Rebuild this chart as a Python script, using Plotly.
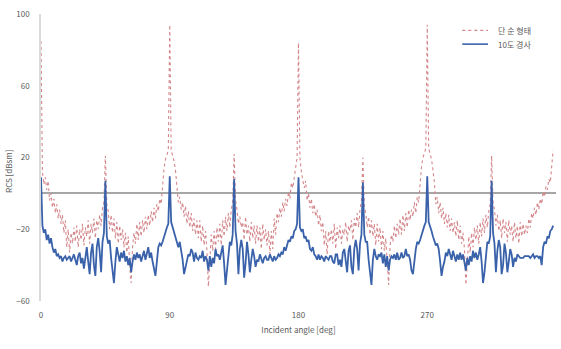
import plotly.graph_objects as go

# Incident angle (deg), 1-degree steps, 0..358
angles = list(range(0, 359))

# RCS of simple shape (dBsm), by quadrant
simple_q1 = [85,
    12, 5, 9, 2, 7, -4, 0, -8, -3, -11,
    -6, -14, -9, -17, -12, -22, -15, -30, -20, -33,
    -22, -28, -19, -27, -18, -30, -20, -26, -17, -29,
    -19, -24, -15, -28, -17, -22, -14, -25, -15, -20,
    -12, -18, -8, -5, 21, -6, -10, -20, -12, -22,
    -14, -25, -16, -28, -18, -26, -20, -30, -22, -33,
    -24, -40, -50, -30, -22, -28, -17, -26, -16, -24,
    -15, -22, -13, -20, -12, -18, -10, -16, -8, -14,
    -6, -10, -3, -6, 6, 14, 19, 22, 24]
simple_q2 = [94,
    24, 21, 18, 13, 5, -5, -2, -9, -5,
    -13, -7, -17, -10, -19, -11, -21, -14, -23, -15,
    -25, -15, -27, -18, -29, -21, -32, -52, -38, -23,
    -32, -21, -31, -19, -27, -17, -29, -15, -24, -13,
    -21, -11, -19, -9, -5, 22, -4, -9, -17, -13,
    -19, -16, -26, -13, -23, -18, -27, -16, -25, -18,
    -28, -18, -27, -19, -31, -17, -26, -20, -29, -21,
    -34, -21, -31, -14, -23, -11, -16, -8, -13, -5,
    -10, -3, -7, 1, -3, 6, 3, 9, 12, 20]
simple_q3 = [84,
    20, 12, 8, 3, 7, -4, 0, -8, -3, -11,
    -6, -13, -9, -18, -12, -21, -16, -29, -21, -34,
    -21, -27, -20, -28, -17, -31, -19, -25, -18, -28,
    -20, -23, -16, -27, -18, -21, -15, -26, -14, -19,
    -11, -19, -9, -4, 20, -7, -11, -19, -13, -23,
    -15, -24, -17, -29, -17, -27, -19, -31, -21, -32,
    -25, -41, -51, -29, -23, -27, -18, -25, -17, -23,
    -14, -23, -12, -21, -11, -19, -9, -15, -9, -13,
    -5, -11, -2, -5, 7, 15, 20, 23, 25]
simple_q4 = [94,
    25, 22, 19, 13, 6, -6, -2, -11, -5,
    -14, -8, -17, -11, -19, -12, -21, -14, -22, -16,
    -24, -15, -26, -18, -28, -22, -31, -51, -39, -24,
    -33, -22, -30, -19, -26, -18, -28, -16, -24, -14,
    -22, -12, -19, -10, -6, 21, -5, -9, -18, -12,
    -21, -15, -25, -14, -22, -16, -27, -15, -23, -18,
    -27, -16, -25, -18, -28, -16, -24, -17, -23, -18,
    -22, -14, -19, -11, -14, -8, -12, -5, -9, -3,
    -6, 1, -2, 4, 2, 8, 6, 14, 24]

# RCS of 10-degree inclined shape (dBsm), by quadrant
tilt_q1 = [9,
    -18, -22, -20, -26, -23, -28, -25, -30, -33, -31,
    -35, -34, -36, -35, -38, -36, -35, -37, -36, -35,
    -38, -36, -34, -37, -40, -35, -33, -39, -36, -42,
    -34, -30, -38, -45, -33, -28, -40, -46, -30, -25,
    -32, -44, -27, -22, 7, -24, -28, -26, -36, -44,
    -50, -38, -30, -34, -38, -33, -36, -32, -38, -35,
    -40, -36, -44, -38, -34, -37, -33, -36, -34, -38,
    -35, -32, -37, -34, -30, -36, -33, -38, -42, -46,
    -38, -30, -28, -29, -27, -24, -21, -19, -17]
tilt_q2 = [9.5,
    -16, -19, -22, -25, -28, -30, -27, -31, -37,
    -45, -41, -37, -34, -35, -31, -33, -38, -33, -36,
    -37, -35, -36, -32, -38, -35, -37, -43, -35, -41,
    -36, -39, -31, -35, -34, -37, -33, -29, -39, -51,
    -43, -35, -27, -29, -23, 8, -21, -28, -45, -31,
    -26, -31, -47, -39, -27, -34, -44, -37, -31, -35,
    -41, -37, -38, -34, -36, -39, -36, -35, -37, -37,
    -34, -36, -38, -35, -37, -36, -34, -35, -33, -34,
    -30, -32, -29, -26, -27, -24, -25, -21, -20, -17]
tilt_q3 = [9,
    -19, -21, -20, -25, -24, -27, -26, -31, -32, -30,
    -34, -35, -37, -34, -37, -35, -36, -38, -35, -36,
    -37, -35, -35, -38, -39, -34, -34, -40, -37, -41,
    -33, -31, -39, -44, -32, -29, -41, -45, -31, -26,
    -31, -43, -28, -23, 6, -23, -27, -27, -37, -45,
    -51, -37, -31, -35, -37, -34, -35, -33, -39, -34,
    -41, -35, -43, -37, -35, -36, -34, -37, -33, -37,
    -36, -33, -36, -35, -31, -35, -34, -37, -43, -45,
    -37, -31, -27, -28, -26, -23, -20, -18, -16]
tilt_q4 = [9.5,
    -16, -18, -21, -24, -27, -29, -28, -31, -38,
    -46, -41, -38, -33, -35, -31, -34, -37, -32, -35,
    -38, -34, -37, -33, -37, -34, -38, -43, -36, -40,
    -35, -38, -32, -36, -33, -37, -34, -30, -38, -50,
    -44, -36, -27, -28, -24, 7, -22, -28, -44, -32,
    -26, -30, -45, -40, -28, -33, -44, -38, -31, -34,
    -41, -36, -38, -34, -35, -36, -36, -36, -35, -35,
    -35, -35, -36, -35, -34, -36, -35, -35, -36, -35,
    -40, -30, -27, -28, -24, -25, -21, -20, -18]

simple_shape = simple_q1 + simple_q2 + simple_q3 + simple_q4
tilted_shape = tilt_q1 + tilt_q2 + tilt_q3 + tilt_q4

series_names = ["단 순 형태", "10도 경사"]
x_ticks = [0, 90, 180, 270]
y_ticks = [-60, -20, 20, 60, 100]

red = "#d4878b"
blue = "#3a62aa"
text_color = "#595959"

fig = go.Figure()
fig.add_trace(go.Scatter(
    x=angles, y=simple_shape, mode="lines", name=series_names[0],
    line=dict(color=red, width=1.1, dash="dot"),
))
fig.add_trace(go.Scatter(
    x=angles, y=tilted_shape, mode="lines", name=series_names[1],
    line=dict(color=blue, width=1.8),
))

# compact legend drawn in paper coordinates
legend_rows = [(0.943, red, "dot", 1.3), (0.895, blue, "solid", 1.6)]
for (yy, col, dsh, w), nm in zip(legend_rows, series_names):
    fig.add_shape(type="line", xref="paper", yref="paper",
                  x0=0.818, x1=0.868, y0=yy, y1=yy,
                  line=dict(color=col, width=w, dash=dsh))
    fig.add_annotation(xref="paper", yref="paper", x=0.883, y=yy,
                       text=nm, showarrow=False, xanchor="left", yanchor="middle",
                       font=dict(size=8, color=text_color))

# y-axis title, placed as in the reference
fig.add_annotation(xref="paper", yref="paper", x=-0.062, y=0.45,
                   text="RCS [dBsm]", textangle=-90, showarrow=False,
                   xanchor="center", yanchor="middle",
                   font=dict(size=8, color=text_color))

font_family = "Noto Sans CJK KR, Noto Sans, sans-serif"
fig.update_layout(
    width=561, height=349,
    margin=dict(l=41, r=5, t=14, b=48),
    paper_bgcolor="white", plot_bgcolor="white",
    font=dict(family=font_family, size=8, color=text_color),
    showlegend=False,
    xaxis=dict(range=[0, 360], tickvals=x_ticks, showgrid=False, zeroline=False,
               showline=False, ticks="outside", ticklen=6, tickcolor="rgba(0,0,0,0)",
               automargin=False,
               title=dict(text="Incident angle [deg]", font=dict(size=8, color=text_color), standoff=8)),
    yaxis=dict(range=[-60, 100], tickvals=y_ticks, showgrid=False,
               zeroline=True, zerolinecolor="#a6a6a6", zerolinewidth=1.5,
               showline=True, linecolor="#d9d9d9", linewidth=1.5,
               ticks="outside", ticklen=8, tickcolor="rgba(0,0,0,0)",
               automargin=False),
)

fig.write_html("out.html")
